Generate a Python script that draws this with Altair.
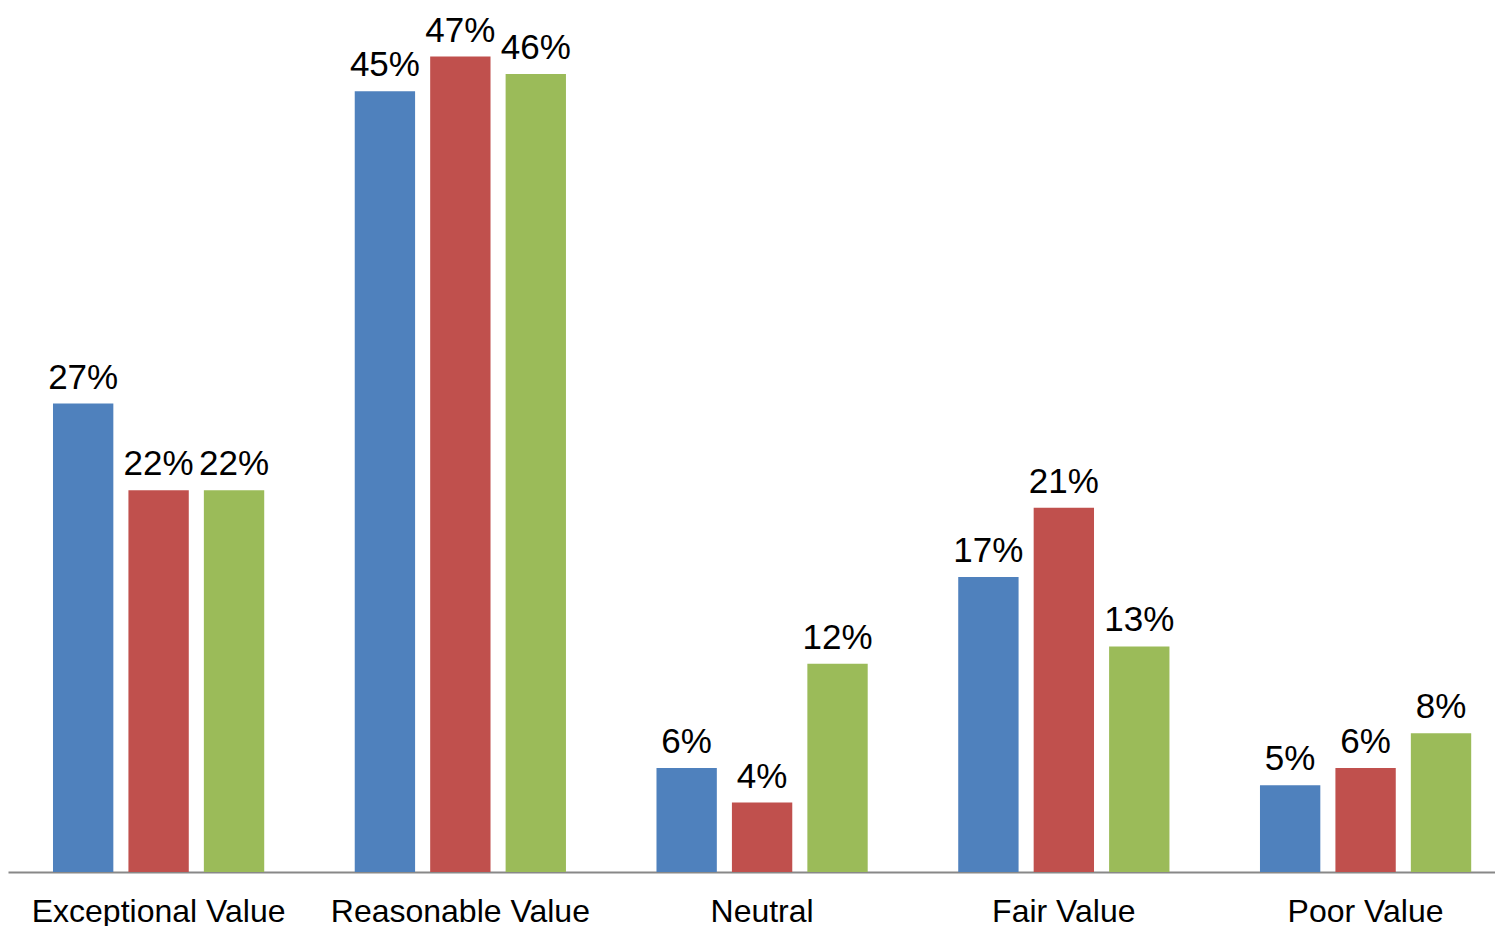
import altair as alt
import pandas as pd

categories = ["Exceptional Value", "Reasonable Value", "Neutral", "Fair Value", "Poor Value"]
series = ["Series 1", "Series 2", "Series 3"]
series1 = [27, 45, 6, 17, 5]
series2 = [22, 47, 4, 21, 6]
series3 = [22, 46, 12, 13, 8]
colors = ["#4F81BD", "#C0504D", "#9BBB59"]

rows = []
for s, vals in zip(series, [series1, series2, series3]):
    for c, v in zip(categories, vals):
        rows.append({"category": c, "series": s, "value": v, "label": f"{v}%"})
df = pd.DataFrame(rows)

FONT = "Liberation Sans, Arial, sans-serif"

x = alt.X(
    "category:N",
    sort=categories,
    title=None,
    scale=alt.Scale(paddingInner=0.3, paddingOuter=0.114, align=0.654),
    axis=alt.Axis(
        labelAngle=0,
        ticks=False,
        grid=False,
        domainColor="#888888",
        domainWidth=2,
        labelFontSize=32,
        labelColor="black",
        labelPadding=24,
        labelFont=FONT,
        labelLimit=0,
        labelOverlap=False,
        labelFlush=False,
    ),
)
xo = alt.XOffset("series:N", sort=series, scale=alt.Scale(paddingInner=0.2, paddingOuter=0))
y = alt.Y("value:Q", scale=alt.Scale(domain=[0, 49.8], nice=False, zero=True), axis=None)

base = alt.Chart(df).encode(x=x, xOffset=xo, y=y)
bars = base.mark_bar().encode(
    color=alt.Color("series:N", scale=alt.Scale(domain=series, range=colors), legend=None)
)
text = base.mark_text(
    baseline="alphabetic", dy=-15, fontSize=35, font=FONT, color="black"
).encode(text="label:N")

chart = (
    (bars + text)
    .properties(width=1487, height=864, padding=0, background="white")
    .configure_view(stroke=None)
)
chart.save("out.html", embed_options={"renderer": "svg", "actions": False})
